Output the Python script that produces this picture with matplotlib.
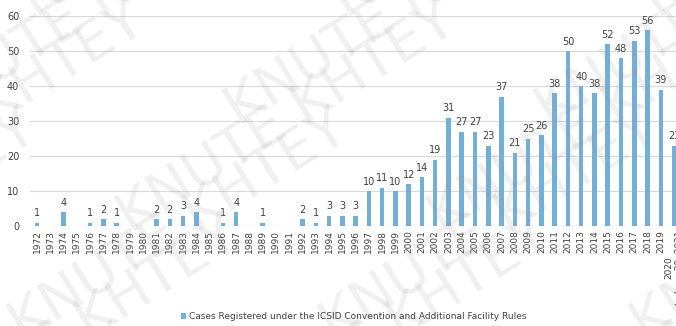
import matplotlib
matplotlib.use('Agg')
import matplotlib.pyplot as plt
import numpy as np

years = [str(y) for y in range(1972, 2020)] + ["2020\nto June 30, 2021"]
cases = [1, 0, 4, 0, 1, 2, 1, 0, 0, 2, 2, 3, 4, 0, 1, 4, 0, 1, 0, 0,
         2, 1, 3, 3, 3, 10, 11, 10, 12, 14, 19, 31, 27, 27, 23, 37, 21, 25, 26, 38,
         50, 40, 38, 52, 48, 53, 56, 39, 23]
legend_label = "Cases Registered under the ICSID Convention and Additional Facility Rules"

BAR = "#72b0da"
TXT = "#404040"

fig = plt.figure(figsize=(6.76, 3.26), dpi=100)
ax = fig.add_axes([0.045, 0.3067, 0.962, 0.644])
ax.patch.set_alpha(0)

x = np.arange(len(years))
bars = ax.bar(x, cases, width=0.34, color=BAR, zorder=3, label=legend_label)
for xi, v in zip(x, cases):
    if v > 0:
        ax.text(xi, v + 1.2, str(v), ha="center", va="bottom", fontsize=7, color=TXT, zorder=4)

ax.set_xlim(-0.5, len(years) - 0.5)
ax.set_ylim(0, 60)
ax.set_yticks(range(0, 61, 10))
ax.yaxis.grid(True, color="#d9d9d9", linewidth=0.8, zorder=0)
ax.set_xticks(x)
ax.set_xticklabels(years, rotation=90, fontsize=6.5, color=TXT)
ax.tick_params(axis="y", labelsize=7, colors=TXT, length=0, pad=8)
ax.tick_params(axis="x", length=0, pad=3)
for s in ax.spines.values():
    s.set_visible(False)
ax.axhline(0, color="#d9d9d9", linewidth=0.8, zorder=2)

fig.legend(handles=[bars], labels=[legend_label], loc="lower left",
           bbox_to_anchor=(0.255, -0.01), frameon=False, fontsize=6.5,
           handlelength=0.6, handleheight=0.6, handletextpad=0.3, labelcolor=TXT)

# watermark, faint and diagonal
for row in range(-2, 4):
    for col in range(-1, 3):
        fig.text(col * 0.46 + row * 0.16, row * 0.33 - 0.08, "KNUTE KHTEY",
                 fontsize=40, color="#9a9a9a", alpha=0.15, rotation=32,
                 ha="left", va="bottom", zorder=5)

fig.savefig("out.png", dpi=100)
